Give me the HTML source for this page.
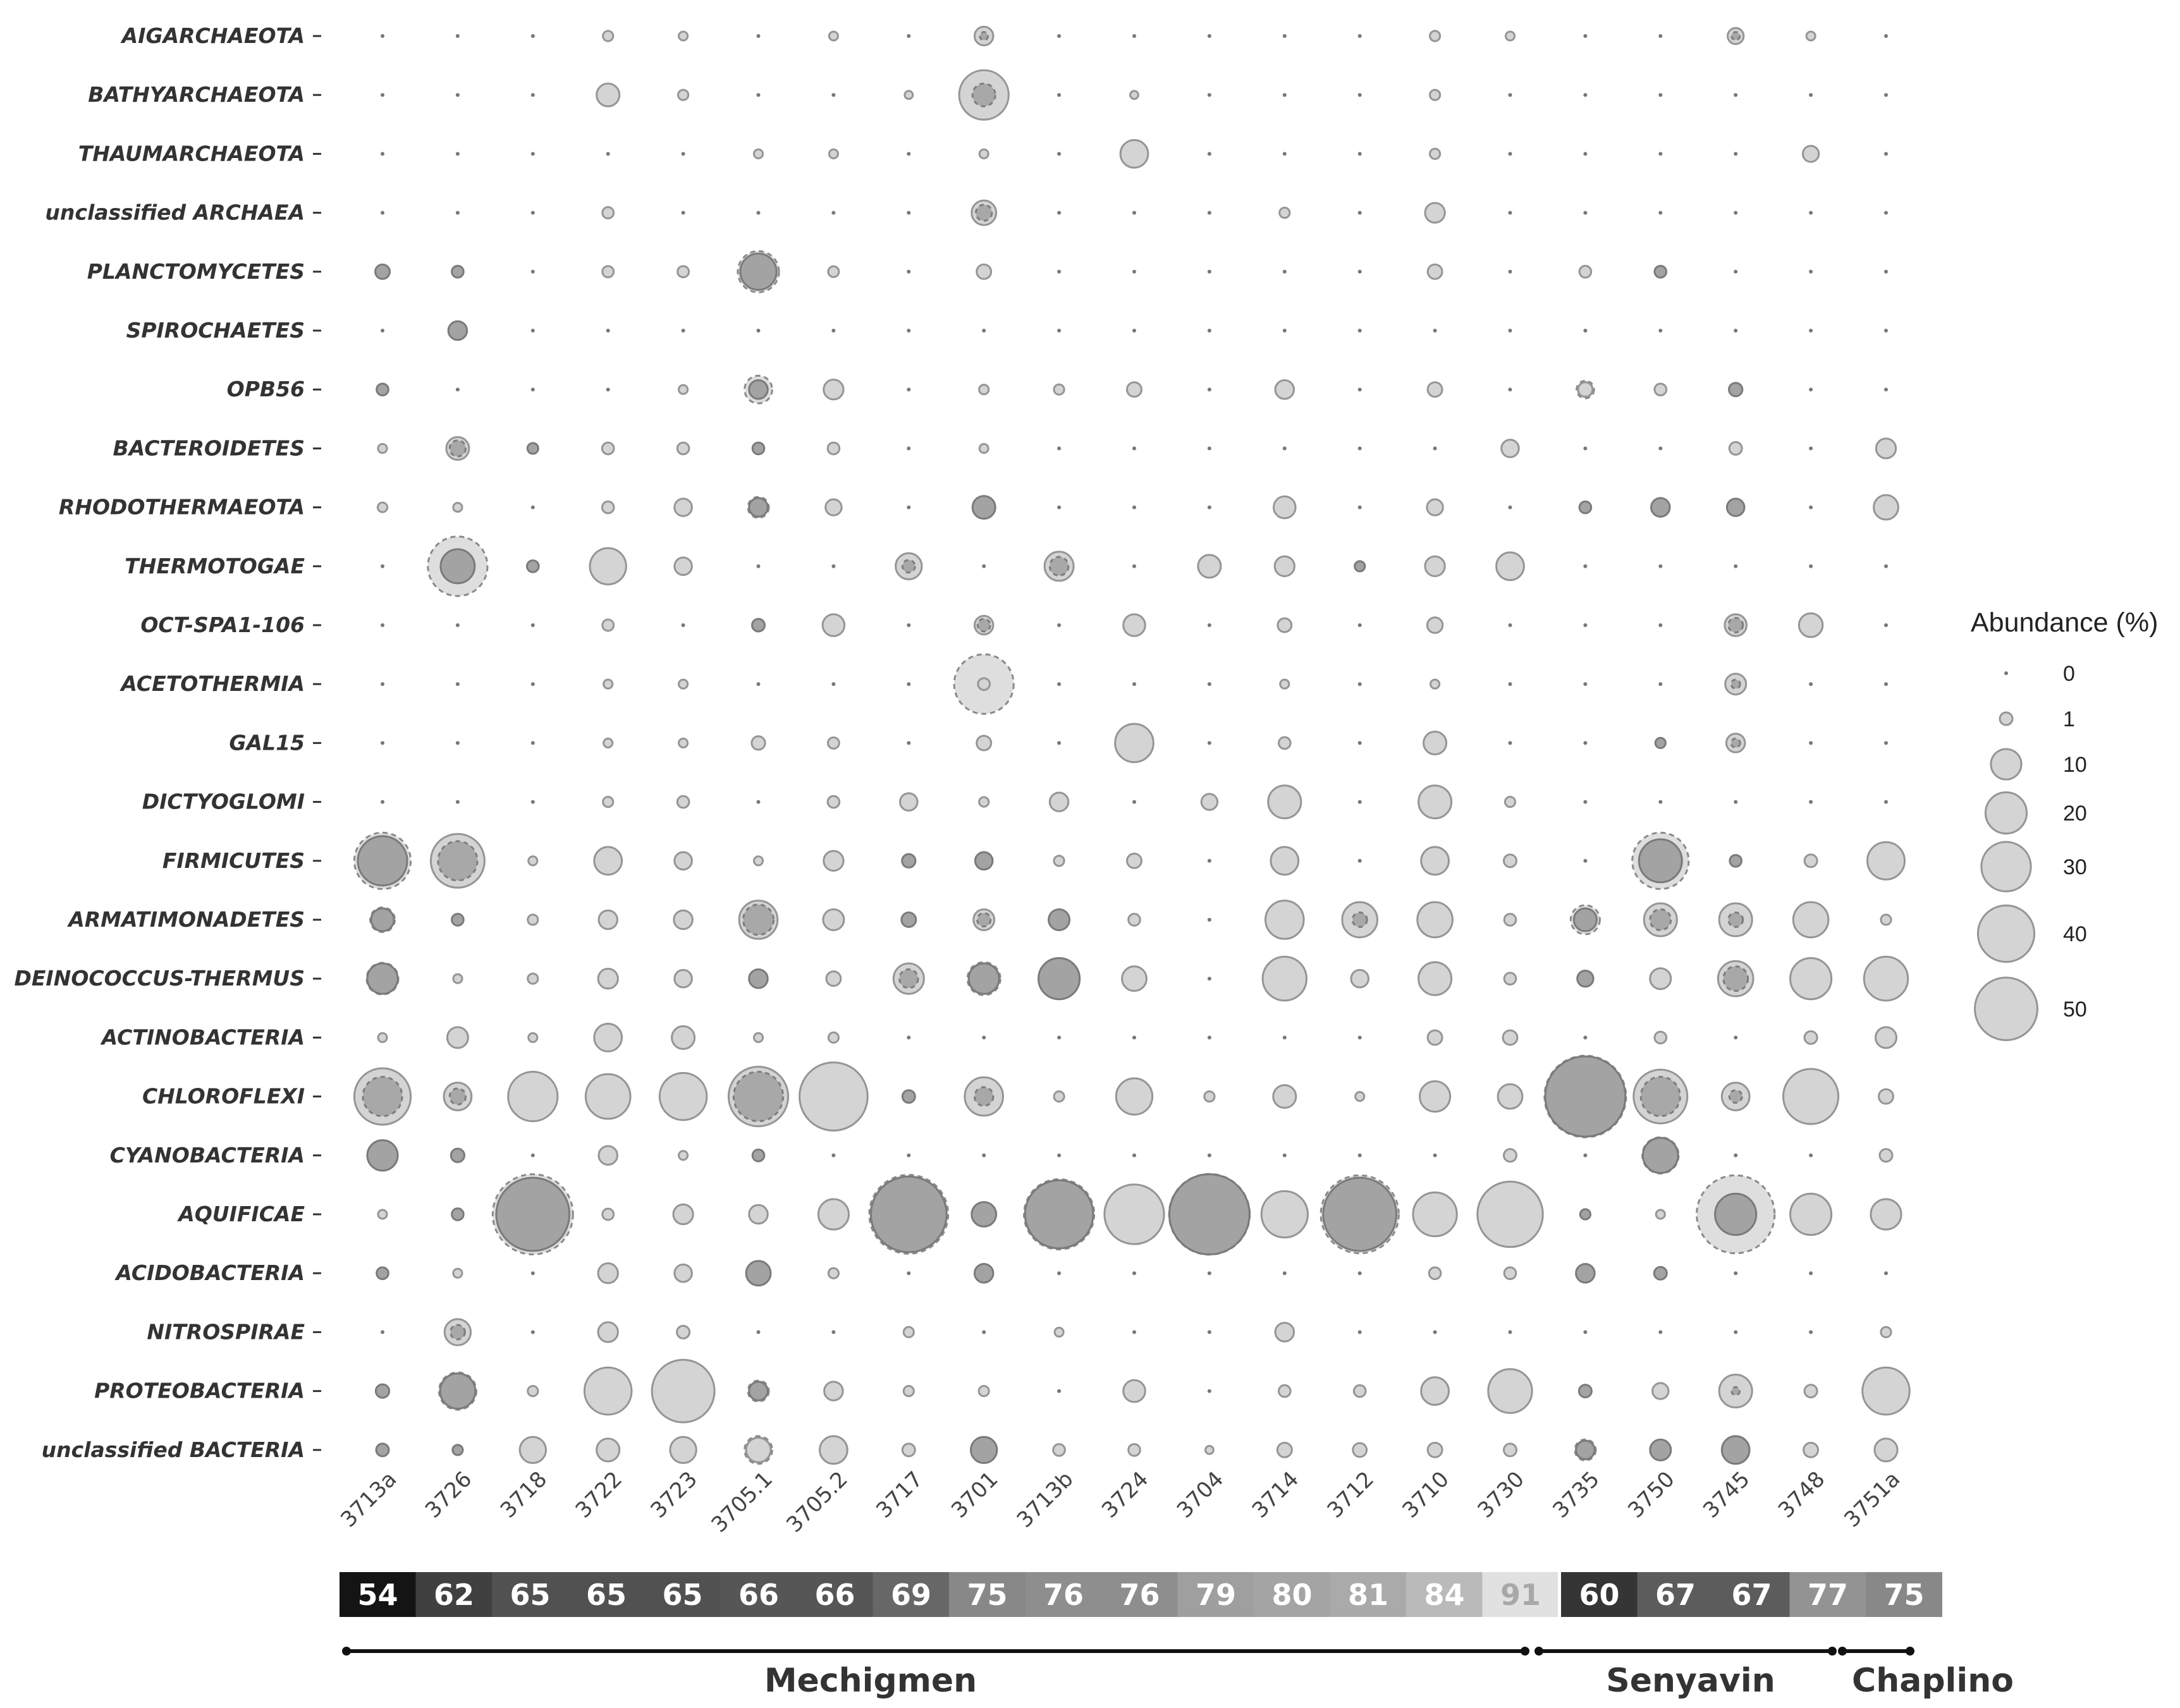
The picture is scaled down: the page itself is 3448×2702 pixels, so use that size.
<!DOCTYPE html>
<html><head><meta charset="utf-8"><style>
html,body{margin:0;padding:0;background:#fff;}
svg{display:block;}
</style></head><body>
<svg id="chart" width="3448" height="2702" viewBox="0 0 3448 2702" xmlns="http://www.w3.org/2000/svg">
<g id="grid"></g>
<g id="ylabels"></g>
<g id="xlabels"></g>
<g id="tempbar"></g>
<g id="groups"></g>
<g id="legend"></g>
</svg>
<script>
const taxa = ["AIGARCHAEOTA","BATHYARCHAEOTA","THAUMARCHAEOTA","unclassified ARCHAEA","PLANCTOMYCETES","SPIROCHAETES","OPB56","BACTEROIDETES","RHODOTHERMAEOTA","THERMOTOGAE","OCT-SPA1-106 ","ACETOTHERMIA","GAL15","DICTYOGLOMI","FIRMICUTES","ARMATIMONADETES","DEINOCOCCUS-THERMUS","ACTINOBACTERIA","CHLOROFLEXI","CYANOBACTERIA","AQUIFICAE","ACIDOBACTERIA","NITROSPIRAE","PROTEOBACTERIA","unclassified BACTERIA"];
const samples = ["3713a","3726","3718","3722","3723","3705.1","3705.2","3717","3701","3713b","3724","3704","3714","3712","3710","3730","3735","3750","3745","3748","3751a"];
const temps = [54,62,65,65,65,66,66,69,75,76,76,79,80,81,84,91,60,67,67,77,75];
const groupNames = ["Mechigmen","Senyavin","Chaplino"];
const legendValues = [0,1,10,20,30,40,50];
const abund = [
[0,0,0,0.5,0.3,0,0.3,0,3,0,0,0,0,0,0.5,0.3,0,0,2,0.3,0],
[0,0,0,5,0.5,0,0,0.2,30,0,0.2,0,0,0,0.5,0,0,0,0,0,0],
[0,0,0,0,0,0.3,0.3,0,0.3,0,8,0,0,0,0.5,0,0,0,0,2,0],
[0,0,0,0.7,0,0,0,0,6,0,0,0,0.5,0,3.5,0,0,0,0,0,0],
[1.5,0.8,0,0.7,0.7,15,0.6,0,1.5,0,0,0,0,0,1.5,0,0.8,0.8,0,0,0],
[0,3,0,0,0,0,0,0,0,0,0,0,0,0,0,0,0,0,0,0,0],
[0.8,0,0,0,0.3,3,3.5,0,0.4,0.5,1.5,0,3,0,1.5,0,1.5,0.8,1.2,0,0],
[0.3,5,0.6,0.8,0.8,0.8,0.8,0,0.3,0,0,0,0,0,0,2.5,0,0,1,0,3.5],
[0.4,0.3,0,0.8,2.5,3,2,0,5,0,0,0,4.5,0,2,0,0.8,3,2.5,0,6],
[0,13,0.8,15,2.5,0,0,7,0,9,0,5,3.5,0.5,3.5,8,0,0,0,0,0],
[0,0,0,0.7,0,1,4.5,0,3,0,4.5,0,1.3,0,1.8,0,0,0,4.5,5.5,0],
[0,0,0,0.3,0.3,0,0,0,0.8,0,0,0,0.3,0,0.3,0,0,0,4,0,0],
[0,0,0,0.3,0.3,1.2,0.7,0,1.5,0,17,0,0.8,0,5,0,0,0.5,3,0,0],
[0,0,0,0.5,0.8,0,0.8,2.5,0.4,3,0,2,12,0,12,0.5,0,0,0,0,0],
[30,36,0.3,8,2.5,0.3,3.5,1.2,2.5,0.5,1.5,0,8,0,8,1,0,22,0.8,1,16],
[5,0.8,0.5,3,3,17,4,1.5,4,4,0.8,0,17,14,14,0.8,5,12,12,14,0.5],
[10,0.3,0.5,3.5,2.5,3,1.5,10,10,20,6,0,23,2.5,12,0.8,2,4,14,20,23],
[0.3,4,0.3,8,5,0.3,0.5,0,0,0,0,0,0,0,1.5,1.5,0,0.8,0,1,4],
[40,8,30,24,27,45,60,1,17,0.5,15,0.5,5,0.3,10,6,85,36,8,38,1.5],
[10,1.2,0,3,0.3,0.8,0,0,0,0,0,0,0,0,0,1,0,14,0,0,1],
[0.3,0.8,70,0.7,3.5,3,10,75,6,60,45,85,26,70,23,55,0.5,0.3,20,20,10],
[0.8,0.3,0,3.5,2.5,6,0.5,0,3,0,0,0,0,0,0.8,0.8,3,1,0,0,0],
[0,7,0,3.5,1,0,0,0.5,0,0.3,0,0,3,0,0,0,0,0,0,0,0.5],
[1.2,14,0.5,27,50,3,3,0.5,0.5,0,4.5,0,0.8,0.8,8,23,1,2,12,1,27],
[1,0.5,7,5,7,6,8,1,7,0.8,0.8,0.2,1.5,1.3,1.5,1,3,4,8,1.5,5]
];
const darkCells = ["4-0","4-1","4-5","4-17","5-1","6-0","6-5","6-18","7-2","7-5","8-5","8-8","8-16","8-17","8-18","9-1","9-2","9-13","10-5","12-17","14-0","14-7","14-8","14-17","14-18","15-0","15-1","15-7","15-9","15-16","16-0","16-5","16-8","16-9","16-16","18-7","18-16","19-0","19-1","19-5","19-17","20-1","20-2","20-7","20-8","20-9","20-11","20-13","20-16","20-18","21-0","21-5","21-8","21-16","21-17","23-0","23-1","23-5","23-16","24-0","24-1","24-8","24-16","24-17","24-18"];
const outerRange = [[4,5,20],[6,5,8],[6,16,2.5],[9,1,45],[11,8,45],[14,0,40],[14,17,40],[15,0,6],[15,16,9],[16,0,11],[16,8,12],[18,16,88],[19,17,15],[20,2,85],[20,7,82],[20,9,64],[20,13,80],[20,18,80],[20,11,86],[23,1,16],[23,5,4],[24,5,8],[24,16,4],[8,5,4]];
const innerCore = [[0,8,0.2],[1,8,5],[3,8,2],[7,1,2],[9,7,1],[9,9,3],[10,8,1],[10,18,1.5],[14,1,18],[15,5,10],[15,8,1.2],[15,13,1.5],[15,17,4],[15,18,1.5],[16,7,3],[16,18,6],[18,0,18],[18,1,2],[18,5,30],[18,8,3],[18,17,18],[18,18,1],[22,1,1.5],[0,18,0.2],[11,18,0.3],[12,18,0.3],[23,18,0.2]];

const NS="http://www.w3.org/2000/svg";
function xS(i){return 605+i*118.9;}
function yS(j){return 57+j*93.2;}
function rS(v){return v<=0?3:3.5+6.5*Math.sqrt(v);}
function mk(tag,attrs,parent){const e=document.createElementNS(NS,tag);for(const k in attrs)e.setAttribute(k,attrs[k]);parent.appendChild(e);return e;}

const grid=document.getElementById('grid');
outerRange.forEach(o=>{
  const c=mk('circle',{cx:xS(o[1]),cy:yS(o[0]),r:rS(o[2]),fill:'#dedede',stroke:'#8a8a8a','stroke-width':3,'stroke-dasharray':'8 6'},grid);
  
  
});
abund.forEach((row,j)=>{
  row.forEach((v,i)=>{
    const dark=darkCells.indexOf(j+'-'+i)>=0;
    let c;
    if(v<=0){
      c=mk('circle',{cx:xS(i),cy:yS(j),r:rS(v),fill:'#777'},grid);
    } else {
      c=mk('circle',{cx:xS(i),cy:yS(j),r:rS(v),fill:dark?'#a3a3a3':'#d4d4d4',stroke:dark?'#7a7a7a':'#959595','stroke-width':3},grid);
    }
    
    
  });
});
innerCore.forEach(o=>{
  const c=mk('circle',{cx:xS(o[1]),cy:yS(o[0]),r:rS(o[2]),fill:'#a8a8a8',stroke:'#7d7d7d','stroke-width':3,'stroke-dasharray':'7 6'},grid);
  
  
});

const yl=document.getElementById('ylabels');
taxa.forEach((t,j)=>{
  const tx=mk('text',{x:482,y:yS(j)+11,'text-anchor':'end','font-family':'DejaVu Sans, sans-serif','font-size':33,'font-weight':'bold','font-style':'italic',fill:'#333'},yl);
  tx.textContent=t;
  
  
  const tk=mk('line',{x1:495,x2:508,y1:yS(j),y2:yS(j),stroke:'#333','stroke-width':3},yl);
  
  
});

const xl=document.getElementById('xlabels');
samples.forEach((s,i)=>{
  const x=xS(i)+24,y=2342;
  const tx=mk('text',{x:x,y:y,'text-anchor':'end','font-family':'DejaVu Sans, sans-serif','font-size':34,fill:'#444',transform:'rotate(-45 '+x+' '+y+')'},xl);
  tx.textContent=s;
  
  
});

const tb=document.getElementById('tempbar');
temps.forEach((t,i)=>{
  const g=Math.round(20+(t-54)/(91-54)*205);
  const x0=537+i*120.5+(i>=16?4:0);
  const r=mk('rect',{x:x0,y:2487,width:121,height:71,fill:'rgb('+g+','+g+','+g+')'},tb);
  
  
  const tx=mk('text',{x:x0+60.5,y:2539,'text-anchor':'middle','font-family':'DejaVu Sans, sans-serif','font-size':46,'font-weight':'bold',fill:t>=90?'#a8a8a8':'#fff'},tb);
  tx.textContent=t;
  
  
});
mk('rect',{x:2464,y:2487,width:4,height:71,fill:'#fff'},tb);

const gr=document.getElementById('groups');
const gx=[[548,2412],[2434,2898],[2914,3021]];
const gl=[1377,2674,3057];
groupNames.forEach((n,k)=>{
  const l=mk('line',{x1:gx[k][0],x2:gx[k][1],y1:2612,y2:2612,stroke:'#111','stroke-width':6},gr);
  
  
  [gx[k][0],gx[k][1]].forEach(cx=>{
    const c=mk('circle',{cx:cx,cy:2612,r:7,fill:'#111'},gr);
    
    
  });
  const tx=mk('text',{x:gl[k],y:2676,'text-anchor':'middle','font-family':'DejaVu Sans, sans-serif','font-size':52,'font-weight':'bold',fill:'#333'},gr);
  tx.textContent=n;
  
  
});

const lg=document.getElementById('legend');
const ttl=mk('text',{x:3117,y:999,'font-family':'Liberation Sans, sans-serif','font-size':43,fill:'#222'},lg);
ttl.textContent='Abundance (%)';


const ly=[1065,1137,1209,1286,1371,1477,1596];
legendValues.forEach((v,k)=>{
  const c=mk('circle',v<=0?{cx:3173,cy:ly[k],r:3,fill:'#777'}:{cx:3173,cy:ly[k],r:rS(v),fill:'#d4d4d4',stroke:'#959595','stroke-width':3},lg);
  
  
  const tx=mk('text',{x:3263,y:ly[k]+12,'font-family':'Liberation Sans, sans-serif','font-size':34,fill:'#222'},lg);
  tx.textContent=v;
  
  
});
</script>
</body></html>
